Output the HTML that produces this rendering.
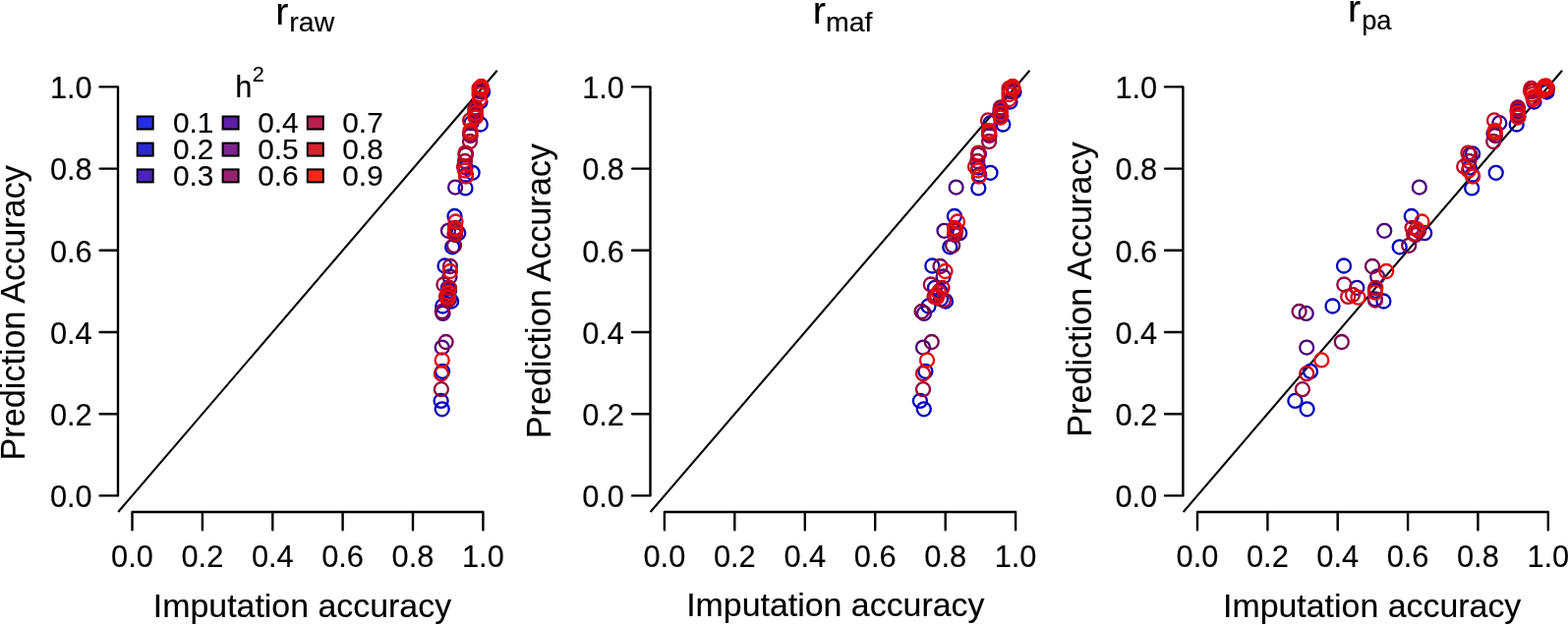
<!DOCTYPE html><html><head><meta charset="utf-8"><title>Imputation vs prediction accuracy</title><style>html,body{margin:0;padding:0;background:#fff;}svg{display:block;}text{font-family:"Liberation Sans", Arial, Helvetica, sans-serif;fill:#000;stroke:#000;stroke-width:0.15px;}</style></head><body>
<svg width="1595" height="636" viewBox="0 0 1595 636">
<rect width="1595" height="636" fill="#fff"/>
<text x="280.2" y="24.8" font-size="39.6">r</text><text x="294.3" y="32.2" font-size="28.5">raw</text>
<text x="826.7" y="24.4" font-size="39.6">r</text><text x="839.9" y="31.8" font-size="28.5">maf</text>
<text x="1371.0" y="21.6" font-size="39.6">r</text><text x="1385.2" y="29.7" font-size="27.3">pa</text>
<text transform="translate(25.2,468.5) rotate(-90)" font-size="34.2">Prediction Accuracy</text>
<text transform="translate(560.2,446.3) rotate(-90)" font-size="34.2">Prediction Accuracy</text>
<text transform="translate(1110.2,444.7) rotate(-90)" font-size="34.2">Prediction Accuracy</text>
<text x="155.8" y="627.5" font-size="33.9">Imputation accuracy</text>
<text x="698.2" y="627.3" font-size="33.9">Imputation accuracy</text>
<text x="1244.0" y="627.6" font-size="33.9">Imputation accuracy</text>
<path d="M120.0 504.4V88.4M120.0 504.4H101.6M120.0 421.2H101.6M120.0 338.0H101.6M120.0 254.8H101.6M120.0 171.6H101.6M120.0 88.4H101.6M134.5 521.0H491.4M134.5 521.0V539.2M205.9 521.0V539.2M277.3 521.0V539.2M348.6 521.0V539.2M420.0 521.0V539.2M491.4 521.0V539.2" fill="none" stroke="#000" stroke-width="2.4" stroke-linecap="round" stroke-linejoin="round"/>
<text x="93.7" y="516.1" font-size="30.8" text-anchor="end">0.0</text>
<text x="93.7" y="432.9" font-size="30.8" text-anchor="end">0.2</text>
<text x="93.7" y="349.7" font-size="30.8" text-anchor="end">0.4</text>
<text x="93.7" y="266.5" font-size="30.8" text-anchor="end">0.6</text>
<text x="93.7" y="183.3" font-size="30.8" text-anchor="end">0.8</text>
<text x="93.7" y="100.1" font-size="30.8" text-anchor="end">1.0</text>
<text x="134.5" y="576.7" font-size="30.8" text-anchor="middle">0.0</text>
<text x="205.9" y="576.7" font-size="30.8" text-anchor="middle">0.2</text>
<text x="277.3" y="576.7" font-size="30.8" text-anchor="middle">0.4</text>
<text x="348.6" y="576.7" font-size="30.8" text-anchor="middle">0.6</text>
<text x="420.0" y="576.7" font-size="30.8" text-anchor="middle">0.8</text>
<text x="491.4" y="576.7" font-size="30.8" text-anchor="middle">1.0</text>
<line x1="120.2" y1="521.0" x2="505.7" y2="71.8" stroke="#000" stroke-width="2.1" stroke-linecap="butt"/>
<g fill="none" stroke-width="2.3"><circle cx="449.7" cy="416.3" r="7" stroke="#0000BE"/><circle cx="448.6" cy="407.9" r="7" stroke="#0000BE"/><circle cx="450.1" cy="377.9" r="7" stroke="#0000BE"/><circle cx="450.3" cy="311.5" r="7" stroke="#0000BE"/><circle cx="452.5" cy="270.5" r="7" stroke="#0000BE"/><circle cx="459.1" cy="306.5" r="7" stroke="#0000BE"/><circle cx="462.5" cy="220.0" r="7" stroke="#0000BE"/><circle cx="460.2" cy="251.3" r="7" stroke="#0000BE"/><circle cx="473.5" cy="191.4" r="7" stroke="#0000BE"/><circle cx="480.6" cy="175.8" r="7" stroke="#0000BE"/><circle cx="488.8" cy="126.5" r="7" stroke="#0000BE"/><circle cx="488.5" cy="103.5" r="7" stroke="#0000BE"/><circle cx="491.0" cy="93.5" r="7" stroke="#0000BE"/><circle cx="456.0" cy="292.8" r="7" stroke="#1A00A8"/><circle cx="457.0" cy="295.8" r="7" stroke="#1A00A8"/><circle cx="457.0" cy="304.3" r="7" stroke="#1A00A8"/><circle cx="466.3" cy="237.2" r="7" stroke="#1A00A8"/><circle cx="474.0" cy="156.5" r="7" stroke="#1A00A8"/><circle cx="473.5" cy="170.5" r="7" stroke="#1A00A8"/><circle cx="474.0" cy="178.0" r="7" stroke="#1A00A8"/><circle cx="490.5" cy="92.0" r="7" stroke="#1A00A8"/><circle cx="479.5" cy="125.2" r="7" stroke="#300092"/><circle cx="484.0" cy="118.5" r="7" stroke="#300092"/><circle cx="449.7" cy="353.6" r="7" stroke="#48007C"/><circle cx="450.5" cy="318.9" r="7" stroke="#48007C"/><circle cx="457.5" cy="281.5" r="7" stroke="#48007C"/><circle cx="463.1" cy="190.6" r="7" stroke="#48007C"/><circle cx="456.0" cy="234.8" r="7" stroke="#48007C"/><circle cx="478.0" cy="136.0" r="7" stroke="#48007C"/><circle cx="483.4" cy="113.0" r="7" stroke="#48007C"/><circle cx="453.6" cy="348.0" r="7" stroke="#780050"/><circle cx="449.8" cy="317.0" r="7" stroke="#780050"/><circle cx="458.0" cy="271.0" r="7" stroke="#780050"/><circle cx="463.0" cy="239.0" r="7" stroke="#780050"/><circle cx="462.0" cy="249.8" r="7" stroke="#780050"/><circle cx="473.5" cy="157.5" r="7" stroke="#780050"/><circle cx="478.6" cy="138.0" r="7" stroke="#780050"/><circle cx="483.6" cy="109.5" r="7" stroke="#780050"/><circle cx="487.8" cy="93.0" r="7" stroke="#780050"/><circle cx="448.9" cy="396.2" r="7" stroke="#98003A"/><circle cx="451.4" cy="289.5" r="7" stroke="#98003A"/><circle cx="456.0" cy="305.5" r="7" stroke="#98003A"/><circle cx="463.5" cy="235.0" r="7" stroke="#98003A"/><circle cx="473.0" cy="164.0" r="7" stroke="#98003A"/><circle cx="478.0" cy="144.0" r="7" stroke="#98003A"/><circle cx="483.6" cy="117.0" r="7" stroke="#98003A"/><circle cx="489.5" cy="89.5" r="7" stroke="#98003A"/><circle cx="448.9" cy="380.2" r="7" stroke="#C0001E"/><circle cx="454.0" cy="301.9" r="7" stroke="#C0001E"/><circle cx="455.0" cy="300.0" r="7" stroke="#C0001E"/><circle cx="457.0" cy="293.0" r="7" stroke="#C0001E"/><circle cx="463.0" cy="231.8" r="7" stroke="#C0001E"/><circle cx="462.5" cy="238.0" r="7" stroke="#C0001E"/><circle cx="473.5" cy="155.6" r="7" stroke="#C0001E"/><circle cx="472.0" cy="169.5" r="7" stroke="#C0001E"/><circle cx="478.0" cy="122.4" r="7" stroke="#C0001E"/><circle cx="483.6" cy="111.0" r="7" stroke="#C0001E"/><circle cx="487.5" cy="90.0" r="7" stroke="#C0001E"/><circle cx="490.0" cy="90.5" r="7" stroke="#C0001E"/><circle cx="449.7" cy="366.4" r="7" stroke="#E40A0C"/><circle cx="456.0" cy="302.7" r="7" stroke="#E40A0C"/><circle cx="458.0" cy="276.0" r="7" stroke="#E40A0C"/><circle cx="456.0" cy="297.7" r="7" stroke="#E40A0C"/><circle cx="463.5" cy="225.5" r="7" stroke="#E40A0C"/><circle cx="463.0" cy="233.0" r="7" stroke="#E40A0C"/><circle cx="473.0" cy="173.5" r="7" stroke="#E40A0C"/><circle cx="474.0" cy="179.6" r="7" stroke="#E40A0C"/><circle cx="478.4" cy="133.0" r="7" stroke="#E40A0C"/><circle cx="478.4" cy="135.0" r="7" stroke="#E40A0C"/><circle cx="483.6" cy="115.0" r="7" stroke="#E40A0C"/><circle cx="483.6" cy="119.5" r="7" stroke="#E40A0C"/><circle cx="487.5" cy="96.0" r="7" stroke="#E40A0C"/><circle cx="488.0" cy="101.0" r="7" stroke="#E40A0C"/><circle cx="489.5" cy="88.0" r="7" stroke="#E40A0C"/><circle cx="490.0" cy="90.0" r="7" stroke="#E40A0C"/><circle cx="489.8" cy="90.5" r="7" stroke="#E40A0C"/></g>
<path d="M661.5 504.4V88.4M661.5 504.4H643.1M661.5 421.2H643.1M661.5 338.0H643.1M661.5 254.8H643.1M661.5 171.6H643.1M661.5 88.4H643.1M675.9 521.0H1033.1M675.9 521.0V539.2M747.3 521.0V539.2M818.8 521.0V539.2M890.2 521.0V539.2M961.7 521.0V539.2M1033.1 521.0V539.2" fill="none" stroke="#000" stroke-width="2.4" stroke-linecap="round" stroke-linejoin="round"/>
<text x="635.0" y="516.1" font-size="30.8" text-anchor="end">0.0</text>
<text x="635.0" y="432.9" font-size="30.8" text-anchor="end">0.2</text>
<text x="635.0" y="349.7" font-size="30.8" text-anchor="end">0.4</text>
<text x="635.0" y="266.5" font-size="30.8" text-anchor="end">0.6</text>
<text x="635.0" y="183.3" font-size="30.8" text-anchor="end">0.8</text>
<text x="635.0" y="100.1" font-size="30.8" text-anchor="end">1.0</text>
<text x="675.9" y="576.7" font-size="30.8" text-anchor="middle">0.0</text>
<text x="747.3" y="576.7" font-size="30.8" text-anchor="middle">0.2</text>
<text x="818.8" y="576.7" font-size="30.8" text-anchor="middle">0.4</text>
<text x="890.2" y="576.7" font-size="30.8" text-anchor="middle">0.6</text>
<text x="961.7" y="576.7" font-size="30.8" text-anchor="middle">0.8</text>
<text x="1033.1" y="576.7" font-size="30.8" text-anchor="middle">1.0</text>
<line x1="661.6" y1="521.0" x2="1047.4" y2="71.8" stroke="#000" stroke-width="2.1" stroke-linecap="butt"/>
<g fill="none" stroke-width="2.3"><circle cx="939.8" cy="416.3" r="7" stroke="#0000BE"/><circle cx="935.9" cy="407.9" r="7" stroke="#0000BE"/><circle cx="941.4" cy="377.9" r="7" stroke="#0000BE"/><circle cx="944.5" cy="311.5" r="7" stroke="#0000BE"/><circle cx="948.3" cy="270.5" r="7" stroke="#0000BE"/><circle cx="962.0" cy="306.5" r="7" stroke="#0000BE"/><circle cx="970.9" cy="220.0" r="7" stroke="#0000BE"/><circle cx="966.3" cy="251.3" r="7" stroke="#0000BE"/><circle cx="995.3" cy="191.4" r="7" stroke="#0000BE"/><circle cx="1007.5" cy="175.8" r="7" stroke="#0000BE"/><circle cx="1020.3" cy="126.5" r="7" stroke="#0000BE"/><circle cx="1027.5" cy="103.5" r="7" stroke="#0000BE"/><circle cx="1031.5" cy="93.5" r="7" stroke="#0000BE"/><circle cx="951.0" cy="292.8" r="7" stroke="#1A00A8"/><circle cx="956.0" cy="295.8" r="7" stroke="#1A00A8"/><circle cx="957.0" cy="304.3" r="7" stroke="#1A00A8"/><circle cx="976.2" cy="237.2" r="7" stroke="#1A00A8"/><circle cx="996.0" cy="156.5" r="7" stroke="#1A00A8"/><circle cx="995.3" cy="170.5" r="7" stroke="#1A00A8"/><circle cx="996.2" cy="178.0" r="7" stroke="#1A00A8"/><circle cx="1031.0" cy="92.0" r="7" stroke="#1A00A8"/><circle cx="1007.5" cy="125.2" r="7" stroke="#300092"/><circle cx="1018.3" cy="118.5" r="7" stroke="#300092"/><circle cx="939.0" cy="353.6" r="7" stroke="#48007C"/><circle cx="940.0" cy="318.9" r="7" stroke="#48007C"/><circle cx="959.6" cy="281.5" r="7" stroke="#48007C"/><circle cx="972.6" cy="190.6" r="7" stroke="#48007C"/><circle cx="960.5" cy="234.8" r="7" stroke="#48007C"/><circle cx="1006.0" cy="136.0" r="7" stroke="#48007C"/><circle cx="1017.5" cy="113.0" r="7" stroke="#48007C"/><circle cx="947.7" cy="348.0" r="7" stroke="#780050"/><circle cx="937.6" cy="317.0" r="7" stroke="#780050"/><circle cx="956.5" cy="271.0" r="7" stroke="#780050"/><circle cx="971.5" cy="239.0" r="7" stroke="#780050"/><circle cx="969.1" cy="249.8" r="7" stroke="#780050"/><circle cx="995.0" cy="157.5" r="7" stroke="#780050"/><circle cx="1006.5" cy="138.0" r="7" stroke="#780050"/><circle cx="1017.8" cy="109.5" r="7" stroke="#780050"/><circle cx="1026.8" cy="93.0" r="7" stroke="#780050"/><circle cx="939.0" cy="396.2" r="7" stroke="#98003A"/><circle cx="946.8" cy="289.5" r="7" stroke="#98003A"/><circle cx="959.8" cy="305.5" r="7" stroke="#98003A"/><circle cx="972.0" cy="235.0" r="7" stroke="#98003A"/><circle cx="994.3" cy="164.0" r="7" stroke="#98003A"/><circle cx="1006.1" cy="144.0" r="7" stroke="#98003A"/><circle cx="1017.8" cy="117.0" r="7" stroke="#98003A"/><circle cx="1030.3" cy="89.5" r="7" stroke="#98003A"/><circle cx="939.0" cy="380.2" r="7" stroke="#C0001E"/><circle cx="950.5" cy="301.9" r="7" stroke="#C0001E"/><circle cx="952.5" cy="300.0" r="7" stroke="#C0001E"/><circle cx="958.5" cy="293.0" r="7" stroke="#C0001E"/><circle cx="971.0" cy="231.8" r="7" stroke="#C0001E"/><circle cx="971.0" cy="238.0" r="7" stroke="#C0001E"/><circle cx="995.3" cy="155.6" r="7" stroke="#C0001E"/><circle cx="992.0" cy="169.5" r="7" stroke="#C0001E"/><circle cx="1005.0" cy="122.4" r="7" stroke="#C0001E"/><circle cx="1017.8" cy="111.0" r="7" stroke="#C0001E"/><circle cx="1026.5" cy="90.0" r="7" stroke="#C0001E"/><circle cx="1030.5" cy="90.5" r="7" stroke="#C0001E"/><circle cx="943.0" cy="366.4" r="7" stroke="#E40A0C"/><circle cx="953.0" cy="302.7" r="7" stroke="#E40A0C"/><circle cx="961.5" cy="276.0" r="7" stroke="#E40A0C"/><circle cx="955.0" cy="297.7" r="7" stroke="#E40A0C"/><circle cx="974.0" cy="225.5" r="7" stroke="#E40A0C"/><circle cx="971.5" cy="233.0" r="7" stroke="#E40A0C"/><circle cx="994.8" cy="173.5" r="7" stroke="#E40A0C"/><circle cx="995.8" cy="179.6" r="7" stroke="#E40A0C"/><circle cx="1006.0" cy="133.0" r="7" stroke="#E40A0C"/><circle cx="1006.2" cy="135.0" r="7" stroke="#E40A0C"/><circle cx="1017.8" cy="115.0" r="7" stroke="#E40A0C"/><circle cx="1017.8" cy="119.5" r="7" stroke="#E40A0C"/><circle cx="1026.5" cy="96.0" r="7" stroke="#E40A0C"/><circle cx="1026.5" cy="101.0" r="7" stroke="#E40A0C"/><circle cx="1030.0" cy="88.0" r="7" stroke="#E40A0C"/><circle cx="1030.5" cy="90.0" r="7" stroke="#E40A0C"/><circle cx="1030.5" cy="90.5" r="7" stroke="#E40A0C"/></g>
<path d="M1203.4 504.4V88.4M1203.4 504.4H1185.0M1203.4 421.2H1185.0M1203.4 338.0H1185.0M1203.4 254.8H1185.0M1203.4 171.6H1185.0M1203.4 88.4H1185.0M1218.0 521.0H1574.8M1218.0 521.0V539.2M1289.4 521.0V539.2M1360.7 521.0V539.2M1432.1 521.0V539.2M1503.4 521.0V539.2M1574.8 521.0V539.2" fill="none" stroke="#000" stroke-width="2.4" stroke-linecap="round" stroke-linejoin="round"/>
<text x="1177.2" y="516.1" font-size="30.8" text-anchor="end">0.0</text>
<text x="1177.2" y="432.9" font-size="30.8" text-anchor="end">0.2</text>
<text x="1177.2" y="349.7" font-size="30.8" text-anchor="end">0.4</text>
<text x="1177.2" y="266.5" font-size="30.8" text-anchor="end">0.6</text>
<text x="1177.2" y="183.3" font-size="30.8" text-anchor="end">0.8</text>
<text x="1177.2" y="100.1" font-size="30.8" text-anchor="end">1.0</text>
<text x="1218.0" y="576.7" font-size="30.8" text-anchor="middle">0.0</text>
<text x="1289.4" y="576.7" font-size="30.8" text-anchor="middle">0.2</text>
<text x="1360.7" y="576.7" font-size="30.8" text-anchor="middle">0.4</text>
<text x="1432.1" y="576.7" font-size="30.8" text-anchor="middle">0.6</text>
<text x="1503.4" y="576.7" font-size="30.8" text-anchor="middle">0.8</text>
<text x="1574.8" y="576.7" font-size="30.8" text-anchor="middle">1.0</text>
<line x1="1203.7" y1="521.0" x2="1589.1" y2="71.8" stroke="#000" stroke-width="2.1" stroke-linecap="butt"/>
<g fill="none" stroke-width="2.3"><circle cx="1329.6" cy="416.3" r="7" stroke="#0000BE"/><circle cx="1317.4" cy="407.9" r="7" stroke="#0000BE"/><circle cx="1333.0" cy="377.9" r="7" stroke="#0000BE"/><circle cx="1355.5" cy="311.5" r="7" stroke="#0000BE"/><circle cx="1367.0" cy="270.5" r="7" stroke="#0000BE"/><circle cx="1407.4" cy="306.5" r="7" stroke="#0000BE"/><circle cx="1435.8" cy="220.0" r="7" stroke="#0000BE"/><circle cx="1423.7" cy="251.3" r="7" stroke="#0000BE"/><circle cx="1497.2" cy="191.4" r="7" stroke="#0000BE"/><circle cx="1521.7" cy="175.8" r="7" stroke="#0000BE"/><circle cx="1542.7" cy="126.5" r="7" stroke="#0000BE"/><circle cx="1560.5" cy="103.5" r="7" stroke="#0000BE"/><circle cx="1573.5" cy="93.5" r="7" stroke="#0000BE"/><circle cx="1380.3" cy="292.8" r="7" stroke="#1A00A8"/><circle cx="1398.9" cy="295.8" r="7" stroke="#1A00A8"/><circle cx="1398.9" cy="304.3" r="7" stroke="#1A00A8"/><circle cx="1449.2" cy="237.2" r="7" stroke="#1A00A8"/><circle cx="1498.1" cy="156.5" r="7" stroke="#1A00A8"/><circle cx="1494.8" cy="170.5" r="7" stroke="#1A00A8"/><circle cx="1497.6" cy="178.0" r="7" stroke="#1A00A8"/><circle cx="1573.0" cy="92.0" r="7" stroke="#1A00A8"/><circle cx="1525.3" cy="125.2" r="7" stroke="#300092"/><circle cx="1544.5" cy="118.5" r="7" stroke="#300092"/><circle cx="1329.2" cy="353.6" r="7" stroke="#48007C"/><circle cx="1328.7" cy="318.9" r="7" stroke="#48007C"/><circle cx="1401.2" cy="281.5" r="7" stroke="#48007C"/><circle cx="1443.8" cy="190.6" r="7" stroke="#48007C"/><circle cx="1408.2" cy="234.8" r="7" stroke="#48007C"/><circle cx="1519.5" cy="136.0" r="7" stroke="#48007C"/><circle cx="1543.5" cy="113.0" r="7" stroke="#48007C"/><circle cx="1364.8" cy="348.0" r="7" stroke="#780050"/><circle cx="1321.6" cy="317.0" r="7" stroke="#780050"/><circle cx="1396.0" cy="271.0" r="7" stroke="#780050"/><circle cx="1440.0" cy="239.0" r="7" stroke="#780050"/><circle cx="1433.2" cy="249.8" r="7" stroke="#780050"/><circle cx="1495.3" cy="157.5" r="7" stroke="#780050"/><circle cx="1521.0" cy="138.0" r="7" stroke="#780050"/><circle cx="1544.0" cy="109.5" r="7" stroke="#780050"/><circle cx="1558.5" cy="93.0" r="7" stroke="#780050"/><circle cx="1324.9" cy="396.2" r="7" stroke="#98003A"/><circle cx="1367.3" cy="289.5" r="7" stroke="#98003A"/><circle cx="1398.9" cy="305.5" r="7" stroke="#98003A"/><circle cx="1443.0" cy="235.0" r="7" stroke="#98003A"/><circle cx="1494.3" cy="164.0" r="7" stroke="#98003A"/><circle cx="1519.2" cy="144.0" r="7" stroke="#98003A"/><circle cx="1544.0" cy="117.0" r="7" stroke="#98003A"/><circle cx="1571.4" cy="89.5" r="7" stroke="#98003A"/><circle cx="1329.2" cy="380.2" r="7" stroke="#C0001E"/><circle cx="1371.2" cy="301.9" r="7" stroke="#C0001E"/><circle cx="1376.0" cy="300.0" r="7" stroke="#C0001E"/><circle cx="1399.3" cy="293.0" r="7" stroke="#C0001E"/><circle cx="1436.6" cy="231.8" r="7" stroke="#C0001E"/><circle cx="1438.0" cy="238.0" r="7" stroke="#C0001E"/><circle cx="1493.4" cy="155.6" r="7" stroke="#C0001E"/><circle cx="1489.2" cy="169.5" r="7" stroke="#C0001E"/><circle cx="1520.0" cy="122.4" r="7" stroke="#C0001E"/><circle cx="1544.0" cy="111.0" r="7" stroke="#C0001E"/><circle cx="1557.6" cy="90.0" r="7" stroke="#C0001E"/><circle cx="1572.5" cy="90.5" r="7" stroke="#C0001E"/><circle cx="1574.0" cy="90.0" r="7" stroke="#C0001E"/><circle cx="1557.0" cy="92.5" r="7" stroke="#C0001E"/><circle cx="1344.3" cy="366.4" r="7" stroke="#E40A0C"/><circle cx="1381.5" cy="302.7" r="7" stroke="#E40A0C"/><circle cx="1410.2" cy="276.0" r="7" stroke="#E40A0C"/><circle cx="1398.9" cy="297.7" r="7" stroke="#E40A0C"/><circle cx="1446.4" cy="225.5" r="7" stroke="#E40A0C"/><circle cx="1441.0" cy="233.0" r="7" stroke="#E40A0C"/><circle cx="1493.9" cy="173.5" r="7" stroke="#E40A0C"/><circle cx="1498.1" cy="179.6" r="7" stroke="#E40A0C"/><circle cx="1520.6" cy="133.0" r="7" stroke="#E40A0C"/><circle cx="1520.6" cy="135.0" r="7" stroke="#E40A0C"/><circle cx="1544.0" cy="115.0" r="7" stroke="#E40A0C"/><circle cx="1544.0" cy="119.5" r="7" stroke="#E40A0C"/><circle cx="1558.5" cy="96.0" r="7" stroke="#E40A0C"/><circle cx="1559.8" cy="101.0" r="7" stroke="#E40A0C"/><circle cx="1571.0" cy="88.0" r="7" stroke="#E40A0C"/><circle cx="1572.0" cy="90.0" r="7" stroke="#E40A0C"/><circle cx="1571.8" cy="90.5" r="7" stroke="#E40A0C"/><circle cx="1569.5" cy="92.0" r="7" stroke="#E40A0C"/><circle cx="1572.5" cy="87.5" r="7" stroke="#E40A0C"/><circle cx="1559.5" cy="99.0" r="7" stroke="#E40A0C"/></g>
<text x="239.2" y="98.6" font-size="30.8">h</text><text x="256.8" y="83.1" font-size="21.6">2</text>
<rect x="139.7" y="118.5" width="16" height="13" fill="#232DE1" stroke="#000" stroke-width="2"/>
<text x="175.9" y="134.9" font-size="29.8">0.1</text>
<rect x="139.7" y="145.6" width="16" height="13" fill="#2D28D0" stroke="#000" stroke-width="2"/>
<text x="175.9" y="162.0" font-size="29.8">0.2</text>
<rect x="139.7" y="172.4" width="16" height="13" fill="#4B23B9" stroke="#000" stroke-width="2"/>
<text x="175.9" y="188.8" font-size="29.8">0.3</text>
<rect x="226.6" y="118.5" width="16" height="13" fill="#5F1EA5" stroke="#000" stroke-width="2"/>
<text x="262.2" y="134.9" font-size="29.8">0.4</text>
<rect x="226.6" y="145.6" width="16" height="13" fill="#7D238C" stroke="#000" stroke-width="2"/>
<text x="262.2" y="162.0" font-size="29.8">0.5</text>
<rect x="226.6" y="172.4" width="16" height="13" fill="#962371" stroke="#000" stroke-width="2"/>
<text x="262.2" y="188.8" font-size="29.8">0.6</text>
<rect x="312.8" y="118.5" width="16" height="13" fill="#B91E50" stroke="#000" stroke-width="2"/>
<text x="348.3" y="134.9" font-size="29.8">0.7</text>
<rect x="312.8" y="145.6" width="16" height="13" fill="#D7232D" stroke="#000" stroke-width="2"/>
<text x="348.3" y="162.0" font-size="29.8">0.8</text>
<rect x="312.8" y="172.4" width="16" height="13" fill="#F52819" stroke="#000" stroke-width="2"/>
<text x="348.3" y="188.8" font-size="29.8">0.9</text>
</svg></body></html>
